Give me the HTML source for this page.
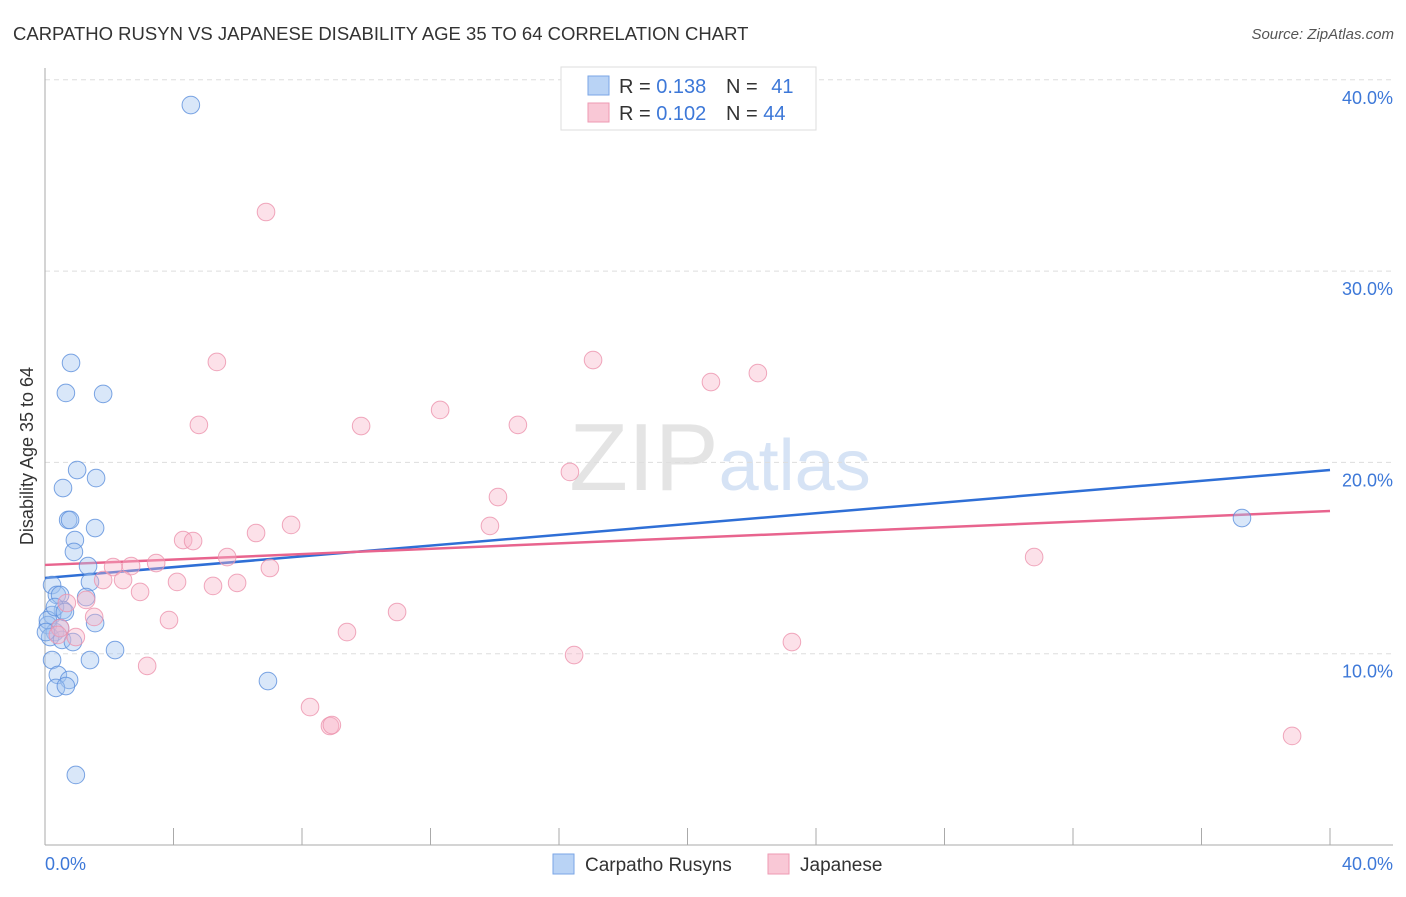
<!DOCTYPE html>
<html><head><meta charset="utf-8"><style>
body{margin:0;background:#fff;font-family:"Liberation Sans",sans-serif;}
svg text{font-family:"Liberation Sans",sans-serif;}
</style></head><body>
<svg id="chart" width="1406" height="892" xmlns="http://www.w3.org/2000/svg">
<text x="13" y="40" font-size="18.5" fill="#333">CARPATHO RUSYN VS JAPANESE DISABILITY AGE 35 TO 64 CORRELATION CHART</text>
<text x="1394" y="39" font-size="15" fill="#555" text-anchor="end" font-style="italic">Source: ZipAtlas.com</text>
<text x="720" y="490" font-size="96" fill="#e4e4e4" text-anchor="middle" font-family="Liberation Serif">ZIP<tspan fill="#d6e3f5" font-family="Liberation Sans" font-size="72">atlas</tspan></text>
<g id="grid"></g>
<g id="axes"></g>
<g id="lines"></g>
<g id="points"></g>
<text transform="translate(33,456) rotate(-90)" font-size="18" fill="#333" text-anchor="middle">Disability Age 35 to 64</text>
<text x="45" y="870" font-size="18" fill="#3d78d8">0.0%</text>
<text x="1393" y="870" font-size="18" fill="#3d78d8" text-anchor="end">40.0%</text>
<g>
<rect x="561" y="67" width="255" height="63" fill="#fff" stroke="#ddd"/>
<rect x="588" y="76" width="21" height="19" fill="#b9d3f5" stroke="#7aa6e6"/>
<rect x="588" y="103" width="21" height="19" fill="#f9c8d6" stroke="#ee9ab3"/>
<text x="619" y="93" font-size="20" fill="#333">R = <tspan fill="#3d78d8">0.138</tspan></text>
<text x="726" y="93" font-size="20" fill="#333">N = <tspan fill="#3d78d8" dx="8">41</tspan></text>
<text x="619" y="120" font-size="20" fill="#333">R = <tspan fill="#3d78d8">0.102</tspan></text>
<text x="726" y="120" font-size="20" fill="#333">N = <tspan fill="#3d78d8">44</tspan></text>
</g>
<g>
<rect x="553" y="854" width="21" height="20" fill="#b9d3f5" stroke="#7aa6e6"/>
<text x="585" y="871" font-size="19" fill="#333">Carpatho Rusyns</text>
<rect x="768" y="854" width="21" height="20" fill="#f9c8d6" stroke="#ee9ab3"/>
<text x="800" y="871" font-size="19" fill="#333">Japanese</text>
</g>
</svg>
<script>
const yTicks=[10,20,30,40];
const yTickLabels=["10.0%","20.0%","30.0%","40.0%"];
const xTicks=[4,8,12,16,20,24,28,32,36,40];
const blueX=[4.54,0.81,0.65,1.81,1.00,0.56,1.59,0.72,0.78,1.56,0.93,0.90,1.34,1.40,0.22,0.37,0.47,1.28,0.56,0.22,0.09,1.56,0.31,0.16,0.53,0.87,2.18,0.22,1.40,0.40,0.75,0.34,0.65,6.94,0.96,37.26,0.09,0.47,0.03,0.31,0.62];
const blueY=[38.68,25.20,23.63,23.58,19.60,18.66,19.18,16.99,16.99,16.57,15.94,15.32,14.58,13.75,13.59,13.07,13.07,12.96,12.28,12.02,11.50,11.60,11.13,10.87,10.72,10.61,10.19,9.67,9.67,8.89,8.63,8.21,8.31,8.57,3.66,17.09,11.76,11.34,11.13,12.44,12.18];
const pinkX=[6.88,5.35,17.06,22.19,20.73,4.79,9.84,12.30,14.72,16.34,14.10,7.66,13.85,4.30,4.61,6.57,5.67,3.46,2.12,2.68,7.00,1.81,2.43,4.11,5.23,5.98,2.96,1.28,0.68,1.53,3.86,10.96,9.40,0.47,0.40,0.96,3.18,16.47,23.25,30.79,8.25,8.87,8.93,38.82];
const pinkY=[33.09,25.25,25.35,24.67,24.20,21.96,21.90,22.74,21.96,19.50,18.19,16.73,16.68,15.94,15.89,16.31,15.05,14.74,14.53,14.58,14.48,13.85,13.85,13.75,13.54,13.70,13.23,12.81,12.65,11.92,11.76,12.18,11.13,11.34,10.98,10.87,9.36,9.93,10.61,15.05,7.21,6.22,6.27,5.70];
const blueTrend=[13.96,19.6];
const pinkTrend=[14.64,17.46];
const NS="http://www.w3.org/2000/svg";
const xs=v=>45+v*32.125, ys=v=>845-v*19.13;
function mk(t,a,p){const e=document.createElementNS(NS,t);for(const k in a)e.setAttribute(k,a[k]);document.getElementById(p).appendChild(e);return e;}
yTicks.forEach((t,i)=>{
 const g=mk('line',{x1:45,x2:1393,y1:ys(t),y2:ys(t),stroke:'#ddd','stroke-dasharray':'5,4'},'grid');
 
 
 const l=mk('text',{x:1393,y:ys(t)+24,'font-size':18,fill:'#3d78d8','text-anchor':'end'},'grid');
 l.textContent=yTickLabels[i];
 
 
});
let a=mk('line',{x1:45,x2:45,y1:68,y2:845,stroke:'#aaa'},'axes');


a=mk('line',{x1:45,x2:1393,y1:845,y2:845,stroke:'#aaa'},'axes');


xTicks.forEach(t=>{const e=mk('line',{x1:xs(t),x2:xs(t),y1:828,y2:845,stroke:'#aaa'},'axes');
 
 });
function pts(X,Y,fill,stroke,name){X.forEach((x,i)=>{const c=mk('circle',{cx:xs(x),cy:ys(Y[i]),r:8.8,fill:fill,stroke:stroke,'stroke-width':1,'stroke-opacity':0.8},'points');
 
 });}
pts(blueX,blueY,'rgba(160,196,240,0.4)','#5b8fdc','carpatho-point');
pts(pinkX,pinkY,'rgba(248,180,200,0.4)','#ec92ad','japanese-point');
let t=mk('line',{x1:xs(0),x2:xs(40),y1:ys(blueTrend[0]),y2:ys(blueTrend[1]),stroke:'#2f6fd6','stroke-width':2.5},'lines');


t=mk('line',{x1:xs(0),x2:xs(40),y1:ys(pinkTrend[0]),y2:ys(pinkTrend[1]),stroke:'#e8648e','stroke-width':2.5},'lines');


</script>
</body></html>
